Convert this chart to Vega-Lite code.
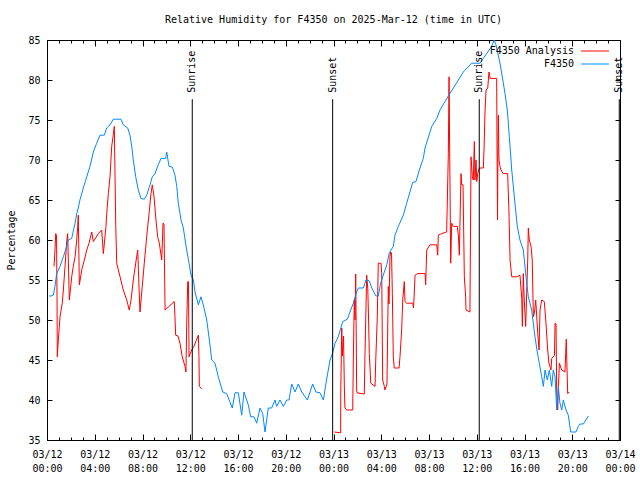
{
  "$schema": "https://vega.github.io/schema/vega-lite/v6.json",
  "width": 573,
  "height": 400,
  "autosize": "none",
  "padding": {"left": 47, "top": 40, "right": 20, "bottom": 40},
  "background": "white",
  "title": {"text": "Relative Humidity for F4350 on 2025-Mar-12 (time in UTC)", "font": "DejaVu Sans Mono", "fontSize": 10, "fontWeight": "normal", "color": "black", "anchor": "middle", "baseline": "alphabetic", "frame": "group", "offset": 2},
  "config": {
    "font": "DejaVu Sans Mono",
    "view": {"stroke": "black", "strokeWidth": 1},
    "axis": {"labelFont": "DejaVu Sans Mono", "labelFontSize": 10, "labelColor": "black", "titleFont": "DejaVu Sans Mono", "titleFontSize": 10, "titleFontWeight": "normal", "titleColor": "black", "grid": false, "domain": false, "tickColor": "black", "tickWidth": 1}
  },
  "datasets": {
    "blue": [
      {"s":"F4350","t":0.17,"rh":53.0},{"s":"F4350","t":0.34,"rh":53.0},{"s":"F4350","t":0.53,"rh":53.1},{"s":"F4350","t":0.67,"rh":54.2},{"s":"F4350","t":0.81,"rh":55.8},{"s":"F4350","t":1.09,"rh":56.7},{"s":"F4350","t":1.37,"rh":57.9},{"s":"F4350","t":1.65,"rh":59.2},{"s":"F4350","t":1.78,"rh":60.0},{"s":"F4350","t":2.07,"rh":60.2},{"s":"F4350","t":2.35,"rh":62.1},{"s":"F4350","t":2.49,"rh":63.3},{"s":"F4350","t":2.62,"rh":64.0},{"s":"F4350","t":2.76,"rh":65.0},{"s":"F4350","t":3.04,"rh":66.5},{"s":"F4350","t":3.33,"rh":67.9},{"s":"F4350","t":3.60,"rh":69.2},{"s":"F4350","t":3.88,"rh":71.0},{"s":"F4350","t":4.16,"rh":72.1},{"s":"F4350","t":4.44,"rh":73.1},{"s":"F4350","t":4.80,"rh":73.1},{"s":"F4350","t":5.00,"rh":74.0},{"s":"F4350","t":5.28,"rh":74.4},{"s":"F4350","t":5.55,"rh":75.1},{"s":"F4350","t":6.20,"rh":75.1},{"s":"F4350","t":6.39,"rh":74.4},{"s":"F4350","t":6.76,"rh":74.0},{"s":"F4350","t":6.95,"rh":73.1},{"s":"F4350","t":7.10,"rh":71.7},{"s":"F4350","t":7.23,"rh":70.0},{"s":"F4350","t":7.43,"rh":67.9},{"s":"F4350","t":7.65,"rh":66.25},{"s":"F4350","t":7.87,"rh":65.2},{"s":"F4350","t":8.15,"rh":65.1},{"s":"F4350","t":8.35,"rh":65.6},{"s":"F4350","t":8.63,"rh":66.9},{"s":"F4350","t":8.82,"rh":67.9},{"s":"F4350","t":9.05,"rh":68.3},{"s":"F4350","t":9.32,"rh":69.4},{"s":"F4350","t":9.55,"rh":70.2},{"s":"F4350","t":9.94,"rh":70.2},{"s":"F4350","t":10.03,"rh":71.0},{"s":"F4350","t":10.22,"rh":69.2},{"s":"F4350","t":10.50,"rh":69.1},{"s":"F4350","t":10.72,"rh":68.1},{"s":"F4350","t":10.87,"rh":66.7},{"s":"F4350","t":11.00,"rh":64.6},{"s":"F4350","t":11.23,"rh":62.5},{"s":"F4350","t":11.42,"rh":61.5},{"s":"F4350","t":11.70,"rh":58.75},{"s":"F4350","t":11.90,"rh":57.1},{"s":"F4350","t":12.06,"rh":55.6},{"s":"F4350","t":12.26,"rh":55.0},{"s":"F4350","t":12.40,"rh":53.5},{"s":"F4350","t":12.68,"rh":51.9},{"s":"F4350","t":12.90,"rh":52.9},{"s":"F4350","t":13.09,"rh":51.9},{"s":"F4350","t":13.38,"rh":50.0},{"s":"F4350","t":13.60,"rh":47.5},{"s":"F4350","t":13.80,"rh":45.0},{"s":"F4350","t":14.07,"rh":44.6},{"s":"F4350","t":14.35,"rh":42.9},{"s":"F4350","t":14.72,"rh":41.0},{"s":"F4350","t":15.05,"rh":40.8},{"s":"F4350","t":15.52,"rh":39.0},{"s":"F4350","t":15.75,"rh":40.9},{"s":"F4350","t":16.03,"rh":40.9},{"s":"F4350","t":16.31,"rh":38.1},{"s":"F4350","t":16.50,"rh":41.0},{"s":"F4350","t":16.86,"rh":39.4},{"s":"F4350","t":17.06,"rh":37.9},{"s":"F4350","t":17.34,"rh":37.9},{"s":"F4350","t":17.57,"rh":37.1},{"s":"F4350","t":17.84,"rh":39.0},{"s":"F4350","t":18.07,"rh":38.3},{"s":"F4350","t":18.26,"rh":36.0},{"s":"F4350","t":18.54,"rh":39.0},{"s":"F4350","t":18.82,"rh":39.0},{"s":"F4350","t":19.10,"rh":40.0},{"s":"F4350","t":19.24,"rh":39.2},{"s":"F4350","t":19.52,"rh":40.0},{"s":"F4350","t":19.80,"rh":39.2},{"s":"F4350","t":20.08,"rh":40.0},{"s":"F4350","t":20.27,"rh":40.0},{"s":"F4350","t":20.50,"rh":42.0},{"s":"F4350","t":20.78,"rh":41.0},{"s":"F4350","t":21.05,"rh":42.0},{"s":"F4350","t":21.34,"rh":41.0},{"s":"F4350","t":21.81,"rh":40.0},{"s":"F4350","t":22.26,"rh":42.0},{"s":"F4350","t":22.53,"rh":41.0},{"s":"F4350","t":22.87,"rh":40.9},{"s":"F4350","t":23.15,"rh":40.0},{"s":"F4350","t":23.37,"rh":42.1},{"s":"F4350","t":23.71,"rh":45.0},{"s":"F4350","t":23.93,"rh":45.9},{"s":"F4350","t":24.13,"rh":47.1},{"s":"F4350","t":24.40,"rh":47.9},{"s":"F4350","t":24.77,"rh":49.8},{"s":"F4350","t":25.16,"rh":50.1},{"s":"F4350","t":25.38,"rh":51.0},{"s":"F4350","t":25.66,"rh":52.1},{"s":"F4350","t":25.94,"rh":53.5},{"s":"F4350","t":26.08,"rh":54.0},{"s":"F4350","t":26.50,"rh":54.0},{"s":"F4350","t":26.72,"rh":55.0},{"s":"F4350","t":27.00,"rh":54.9},{"s":"F4350","t":27.20,"rh":54.0},{"s":"F4350","t":27.56,"rh":53.0},{"s":"F4350","t":27.75,"rh":53.0},{"s":"F4350","t":27.95,"rh":54.6},{"s":"F4350","t":28.17,"rh":55.6},{"s":"F4350","t":28.46,"rh":56.9},{"s":"F4350","t":28.68,"rh":58.4},{"s":"F4350","t":29.01,"rh":59.2},{"s":"F4350","t":29.15,"rh":60.6},{"s":"F4350","t":29.43,"rh":61.7},{"s":"F4350","t":29.85,"rh":63.1},{"s":"F4350","t":30.13,"rh":64.6},{"s":"F4350","t":30.64,"rh":67.2},{"s":"F4350","t":30.91,"rh":67.3},{"s":"F4350","t":31.19,"rh":68.75},{"s":"F4350","t":31.52,"rh":70.2},{"s":"F4350","t":31.67,"rh":71.5},{"s":"F4350","t":32.23,"rh":74.2},{"s":"F4350","t":32.65,"rh":75.2},{"s":"F4350","t":32.92,"rh":76.25},{"s":"F4350","t":33.34,"rh":77.3},{"s":"F4350","t":34.04,"rh":79.0},{"s":"F4350","t":34.46,"rh":80.0},{"s":"F4350","t":34.87,"rh":81.0},{"s":"F4350","t":35.58,"rh":82.1},{"s":"F4350","t":36.27,"rh":82.1},{"s":"F4350","t":36.83,"rh":83.3},{"s":"F4350","t":37.25,"rh":84.2},{"s":"F4350","t":37.45,"rh":85.0},{"s":"F4350","t":37.61,"rh":84.4},{"s":"F4350","t":37.95,"rh":82.1},{"s":"F4350","t":38.37,"rh":78.3},{"s":"F4350","t":38.56,"rh":76.25},{"s":"F4350","t":38.73,"rh":72.9},{"s":"F4350","t":38.93,"rh":68.75},{"s":"F4350","t":39.20,"rh":64.6},{"s":"F4350","t":39.40,"rh":61.7},{"s":"F4350","t":39.62,"rh":60.0},{"s":"F4350","t":39.90,"rh":58.75},{"s":"F4350","t":40.13,"rh":55.4},{"s":"F4350","t":40.32,"rh":52.9},{"s":"F4350","t":40.60,"rh":51.25},{"s":"F4350","t":40.88,"rh":47.9},{"s":"F4350","t":41.07,"rh":46.0},{"s":"F4350","t":41.24,"rh":44.6},{"s":"F4350","t":41.44,"rh":42.9},{"s":"F4350","t":41.58,"rh":41.7},{"s":"F4350","t":41.72,"rh":43.75},{"s":"F4350","t":41.91,"rh":42.5},{"s":"F4350","t":42.08,"rh":43.75},{"s":"F4350","t":42.28,"rh":41.7},{"s":"F4350","t":42.41,"rh":43.75},{"s":"F4350","t":42.56,"rh":42.9},{"s":"F4350","t":42.70,"rh":38.75},{"s":"F4350","t":42.83,"rh":41.7},{"s":"F4350","t":42.97,"rh":39.6},{"s":"F4350","t":43.12,"rh":38.75},{"s":"F4350","t":43.25,"rh":40.0},{"s":"F4350","t":43.48,"rh":38.75},{"s":"F4350","t":43.67,"rh":38.1},{"s":"F4350","t":43.87,"rh":36.0},{"s":"F4350","t":44.31,"rh":36.0},{"s":"F4350","t":44.51,"rh":36.7},{"s":"F4350","t":44.65,"rh":37.0},{"s":"F4350","t":44.93,"rh":37.0},{"s":"F4350","t":45.35,"rh":38.0}
    ],
    "red": [
      {"s":"F4350 Analysis","g":1,"t":0.59,"rh":56.7},{"s":"F4350 Analysis","g":1,"t":0.67,"rh":58.75},{"s":"F4350 Analysis","g":1,"t":0.73,"rh":60.8},{"s":"F4350 Analysis","g":1,"t":0.80,"rh":60.5},{"s":"F4350 Analysis","g":1,"t":0.84,"rh":52.9},{"s":"F4350 Analysis","g":1,"t":0.86,"rh":45.4},{"s":"F4350 Analysis","g":1,"t":0.95,"rh":47.5},{"s":"F4350 Analysis","g":1,"t":1.09,"rh":50.4},{"s":"F4350 Analysis","g":1,"t":1.28,"rh":52.1},{"s":"F4350 Analysis","g":1,"t":1.37,"rh":53.75},{"s":"F4350 Analysis","g":1,"t":1.51,"rh":56.7},{"s":"F4350 Analysis","g":1,"t":1.65,"rh":59.8},{"s":"F4350 Analysis","g":1,"t":1.73,"rh":60.8},{"s":"F4350 Analysis","g":1,"t":1.87,"rh":52.5},{"s":"F4350 Analysis","g":1,"t":2.07,"rh":55.4},{"s":"F4350 Analysis","g":1,"t":2.20,"rh":56.7},{"s":"F4350 Analysis","g":1,"t":2.35,"rh":57.9},{"s":"F4350 Analysis","g":1,"t":2.49,"rh":60.0},{"s":"F4350 Analysis","g":1,"t":2.57,"rh":61.7},{"s":"F4350 Analysis","g":1,"t":2.62,"rh":63.1},{"s":"F4350 Analysis","g":1,"t":2.71,"rh":54.4},{"s":"F4350 Analysis","g":1,"t":2.91,"rh":56.25},{"s":"F4350 Analysis","g":1,"t":3.13,"rh":57.5},{"s":"F4350 Analysis","g":1,"t":3.33,"rh":58.75},{"s":"F4350 Analysis","g":1,"t":3.52,"rh":59.6},{"s":"F4350 Analysis","g":1,"t":3.75,"rh":61.0},{"s":"F4350 Analysis","g":1,"t":3.88,"rh":59.8},{"s":"F4350 Analysis","g":1,"t":4.30,"rh":60.8},{"s":"F4350 Analysis","g":1,"t":4.58,"rh":61.25},{"s":"F4350 Analysis","g":1,"t":4.72,"rh":58.3},{"s":"F4350 Analysis","g":1,"t":4.94,"rh":61.7},{"s":"F4350 Analysis","g":1,"t":5.00,"rh":63.3},{"s":"F4350 Analysis","g":1,"t":5.14,"rh":65.8},{"s":"F4350 Analysis","g":1,"t":5.28,"rh":67.9},{"s":"F4350 Analysis","g":1,"t":5.42,"rh":71.7},{"s":"F4350 Analysis","g":1,"t":5.55,"rh":73.1},{"s":"F4350 Analysis","g":1,"t":5.64,"rh":74.2},{"s":"F4350 Analysis","g":1,"t":5.70,"rh":67.9},{"s":"F4350 Analysis","g":1,"t":5.76,"rh":61.7},{"s":"F4350 Analysis","g":1,"t":5.84,"rh":57.1},{"s":"F4350 Analysis","g":1,"t":6.12,"rh":55.4},{"s":"F4350 Analysis","g":1,"t":6.39,"rh":53.75},{"s":"F4350 Analysis","g":1,"t":6.68,"rh":52.5},{"s":"F4350 Analysis","g":1,"t":6.89,"rh":51.25},{"s":"F4350 Analysis","g":1,"t":7.04,"rh":52.5},{"s":"F4350 Analysis","g":1,"t":7.23,"rh":55.0},{"s":"F4350 Analysis","g":1,"t":7.43,"rh":57.1},{"s":"F4350 Analysis","g":1,"t":7.60,"rh":58.75},{"s":"F4350 Analysis","g":1,"t":7.71,"rh":54.0},{"s":"F4350 Analysis","g":1,"t":7.79,"rh":51.0},{"s":"F4350 Analysis","g":1,"t":7.98,"rh":54.2},{"s":"F4350 Analysis","g":1,"t":8.15,"rh":57.1},{"s":"F4350 Analysis","g":1,"t":8.35,"rh":60.4},{"s":"F4350 Analysis","g":1,"t":8.55,"rh":63.3},{"s":"F4350 Analysis","g":1,"t":8.71,"rh":65.8},{"s":"F4350 Analysis","g":1,"t":8.82,"rh":66.9},{"s":"F4350 Analysis","g":1,"t":8.96,"rh":65.5},{"s":"F4350 Analysis","g":1,"t":9.13,"rh":62.5},{"s":"F4350 Analysis","g":1,"t":9.27,"rh":60.4},{"s":"F4350 Analysis","g":1,"t":9.41,"rh":59.6},{"s":"F4350 Analysis","g":1,"t":9.61,"rh":57.5},{"s":"F4350 Analysis","g":1,"t":9.72,"rh":62.1},{"s":"F4350 Analysis","g":1,"t":9.80,"rh":62.0},{"s":"F4350 Analysis","g":1,"t":9.89,"rh":51.25},{"s":"F4350 Analysis","g":1,"t":10.66,"rh":52.3},{"s":"F4350 Analysis","g":1,"t":10.72,"rh":50.4},{"s":"F4350 Analysis","g":1,"t":10.78,"rh":48.1},{"s":"F4350 Analysis","g":1,"t":10.97,"rh":48.0},{"s":"F4350 Analysis","g":1,"t":11.14,"rh":47.1},{"s":"F4350 Analysis","g":1,"t":11.33,"rh":45.4},{"s":"F4350 Analysis","g":1,"t":11.56,"rh":44.2},{"s":"F4350 Analysis","g":1,"t":11.64,"rh":43.5},{"s":"F4350 Analysis","g":1,"t":11.70,"rh":49.2},{"s":"F4350 Analysis","g":1,"t":11.79,"rh":54.8},{"s":"F4350 Analysis","g":1,"t":11.85,"rh":54.8},{"s":"F4350 Analysis","g":1,"t":11.90,"rh":45.4},{"s":"F4350 Analysis","g":1,"t":12.12,"rh":46.25},{"s":"F4350 Analysis","g":1,"t":12.31,"rh":46.7},{"s":"F4350 Analysis","g":1,"t":12.68,"rh":48.1},{"s":"F4350 Analysis","g":1,"t":12.73,"rh":45.4},{"s":"F4350 Analysis","g":1,"t":12.76,"rh":41.7},{"s":"F4350 Analysis","g":1,"t":12.96,"rh":41.4},
      {"s":"F4350 Analysis","g":2,"t":24.07,"rh":36.0},{"s":"F4350 Analysis","g":2,"t":24.60,"rh":35.9},{"s":"F4350 Analysis","g":2,"t":24.61,"rh":41.25},{"s":"F4350 Analysis","g":2,"t":24.69,"rh":49.0},{"s":"F4350 Analysis","g":2,"t":24.75,"rh":45.5},{"s":"F4350 Analysis","g":2,"t":24.84,"rh":48.0},{"s":"F4350 Analysis","g":2,"t":24.91,"rh":41.5},{"s":"F4350 Analysis","g":2,"t":24.96,"rh":39.0},{"s":"F4350 Analysis","g":2,"t":25.11,"rh":38.75},{"s":"F4350 Analysis","g":2,"t":25.61,"rh":38.75},{"s":"F4350 Analysis","g":2,"t":25.66,"rh":45.0},{"s":"F4350 Analysis","g":2,"t":25.74,"rh":52.5},{"s":"F4350 Analysis","g":2,"t":25.80,"rh":50.0},{"s":"F4350 Analysis","g":2,"t":25.86,"rh":55.75},{"s":"F4350 Analysis","g":2,"t":25.94,"rh":41.25},{"s":"F4350 Analysis","g":2,"t":25.97,"rh":40.9},{"s":"F4350 Analysis","g":2,"t":26.58,"rh":40.75},{"s":"F4350 Analysis","g":2,"t":26.64,"rh":45.8},{"s":"F4350 Analysis","g":2,"t":26.78,"rh":55.6},{"s":"F4350 Analysis","g":2,"t":26.87,"rh":54.0},{"s":"F4350 Analysis","g":2,"t":26.92,"rh":51.25},{"s":"F4350 Analysis","g":2,"t":27.00,"rh":45.8},{"s":"F4350 Analysis","g":2,"t":27.12,"rh":42.1},{"s":"F4350 Analysis","g":2,"t":27.48,"rh":41.7},{"s":"F4350 Analysis","g":2,"t":27.54,"rh":45.0},{"s":"F4350 Analysis","g":2,"t":27.67,"rh":50.4},{"s":"F4350 Analysis","g":2,"t":27.75,"rh":57.1},{"s":"F4350 Analysis","g":2,"t":27.98,"rh":57.1},{"s":"F4350 Analysis","g":2,"t":28.04,"rh":55.8},{"s":"F4350 Analysis","g":2,"t":28.12,"rh":42.5},{"s":"F4350 Analysis","g":2,"t":28.26,"rh":41.7},{"s":"F4350 Analysis","g":2,"t":28.31,"rh":41.25},{"s":"F4350 Analysis","g":2,"t":28.48,"rh":42.0},{"s":"F4350 Analysis","g":2,"t":28.59,"rh":54.2},{"s":"F4350 Analysis","g":2,"t":28.65,"rh":52.0},{"s":"F4350 Analysis","g":2,"t":28.73,"rh":57.9},{"s":"F4350 Analysis","g":2,"t":28.79,"rh":58.5},{"s":"F4350 Analysis","g":2,"t":28.86,"rh":58.4},{"s":"F4350 Analysis","g":2,"t":28.93,"rh":53.3},{"s":"F4350 Analysis","g":2,"t":29.01,"rh":45.4},{"s":"F4350 Analysis","g":2,"t":29.09,"rh":44.0},{"s":"F4350 Analysis","g":2,"t":29.49,"rh":44.0},{"s":"F4350 Analysis","g":2,"t":29.57,"rh":45.4},{"s":"F4350 Analysis","g":2,"t":29.71,"rh":48.75},{"s":"F4350 Analysis","g":2,"t":29.80,"rh":52.5},{"s":"F4350 Analysis","g":2,"t":29.93,"rh":54.8},{"s":"F4350 Analysis","g":2,"t":29.99,"rh":52.3},{"s":"F4350 Analysis","g":2,"t":30.13,"rh":52.1},{"s":"F4350 Analysis","g":2,"t":30.64,"rh":52.1},{"s":"F4350 Analysis","g":2,"t":30.70,"rh":51.5},{"s":"F4350 Analysis","g":2,"t":30.77,"rh":53.5},{"s":"F4350 Analysis","g":2,"t":30.83,"rh":55.6},{"s":"F4350 Analysis","g":2,"t":31.05,"rh":55.8},{"s":"F4350 Analysis","g":2,"t":31.67,"rh":55.8},{"s":"F4350 Analysis","g":2,"t":31.72,"rh":54.4},{"s":"F4350 Analysis","g":2,"t":31.81,"rh":58.75},{"s":"F4350 Analysis","g":2,"t":32.08,"rh":59.4},{"s":"F4350 Analysis","g":2,"t":32.65,"rh":59.4},{"s":"F4350 Analysis","g":2,"t":32.73,"rh":58.1},{"s":"F4350 Analysis","g":2,"t":32.78,"rh":60.6},{"s":"F4350 Analysis","g":2,"t":33.06,"rh":60.8},{"s":"F4350 Analysis","g":2,"t":33.48,"rh":61.0},{"s":"F4350 Analysis","g":2,"t":33.62,"rh":70.8},{"s":"F4350 Analysis","g":2,"t":33.68,"rh":80.4},{"s":"F4350 Analysis","g":2,"t":33.73,"rh":71.5},{"s":"F4350 Analysis","g":2,"t":33.82,"rh":57.1},{"s":"F4350 Analysis","g":2,"t":33.90,"rh":62.1},{"s":"F4350 Analysis","g":2,"t":34.04,"rh":61.7},{"s":"F4350 Analysis","g":2,"t":34.37,"rh":61.7},{"s":"F4350 Analysis","g":2,"t":34.46,"rh":60.6},{"s":"F4350 Analysis","g":2,"t":34.54,"rh":58.1},{"s":"F4350 Analysis","g":2,"t":34.68,"rh":68.3},{"s":"F4350 Analysis","g":2,"t":34.74,"rh":66.9},{"s":"F4350 Analysis","g":2,"t":34.85,"rh":66.9},{"s":"F4350 Analysis","g":2,"t":34.96,"rh":55.4},{"s":"F4350 Analysis","g":2,"t":35.07,"rh":52.9},{"s":"F4350 Analysis","g":2,"t":35.10,"rh":51.25},{"s":"F4350 Analysis","g":2,"t":35.43,"rh":51.0},{"s":"F4350 Analysis","g":2,"t":35.52,"rh":70.4},{"s":"F4350 Analysis","g":2,"t":35.63,"rh":67.9},{"s":"F4350 Analysis","g":2,"t":35.71,"rh":67.5},{"s":"F4350 Analysis","g":2,"t":35.80,"rh":72.3},{"s":"F4350 Analysis","g":2,"t":35.85,"rh":67.5},{"s":"F4350 Analysis","g":2,"t":35.94,"rh":70.0},{"s":"F4350 Analysis","g":2,"t":36.00,"rh":67.3},{"s":"F4350 Analysis","g":2,"t":36.08,"rh":68.3},{"s":"F4350 Analysis","g":2,"t":36.21,"rh":69.0},{"s":"F4350 Analysis","g":2,"t":36.55,"rh":69.0},{"s":"F4350 Analysis","g":2,"t":36.61,"rh":71.25},{"s":"F4350 Analysis","g":2,"t":36.69,"rh":76.0},{"s":"F4350 Analysis","g":2,"t":36.78,"rh":78.75},{"s":"F4350 Analysis","g":2,"t":36.92,"rh":79.0},{"s":"F4350 Analysis","g":2,"t":37.03,"rh":81.0},{"s":"F4350 Analysis","g":2,"t":37.11,"rh":80.2},{"s":"F4350 Analysis","g":2,"t":37.67,"rh":80.2},{"s":"F4350 Analysis","g":2,"t":37.70,"rh":71.5},{"s":"F4350 Analysis","g":2,"t":37.74,"rh":62.5},{"s":"F4350 Analysis","g":2,"t":37.78,"rh":72.0},{"s":"F4350 Analysis","g":2,"t":37.81,"rh":75.6},{"s":"F4350 Analysis","g":2,"t":37.86,"rh":70.0},{"s":"F4350 Analysis","g":2,"t":37.95,"rh":69.2},{"s":"F4350 Analysis","g":2,"t":38.03,"rh":68.75},{"s":"F4350 Analysis","g":2,"t":38.22,"rh":68.3},{"s":"F4350 Analysis","g":2,"t":38.59,"rh":68.3},{"s":"F4350 Analysis","g":2,"t":38.70,"rh":63.5},{"s":"F4350 Analysis","g":2,"t":38.79,"rh":57.5},{"s":"F4350 Analysis","g":2,"t":38.93,"rh":55.4},{"s":"F4350 Analysis","g":2,"t":39.35,"rh":55.4},{"s":"F4350 Analysis","g":2,"t":39.62,"rh":55.6},{"s":"F4350 Analysis","g":2,"t":39.77,"rh":52.7},{"s":"F4350 Analysis","g":2,"t":39.82,"rh":49.2},{"s":"F4350 Analysis","g":2,"t":39.90,"rh":55.8},{"s":"F4350 Analysis","g":2,"t":39.98,"rh":52.5},{"s":"F4350 Analysis","g":2,"t":40.10,"rh":49.2},{"s":"F4350 Analysis","g":2,"t":40.18,"rh":53.3},{"s":"F4350 Analysis","g":2,"t":40.27,"rh":57.5},{"s":"F4350 Analysis","g":2,"t":40.32,"rh":61.5},{"s":"F4350 Analysis","g":2,"t":40.40,"rh":60.0},{"s":"F4350 Analysis","g":2,"t":40.55,"rh":59.2},{"s":"F4350 Analysis","g":2,"t":40.65,"rh":57.5},{"s":"F4350 Analysis","g":2,"t":40.74,"rh":50.4},{"s":"F4350 Analysis","g":2,"t":40.82,"rh":50.8},{"s":"F4350 Analysis","g":2,"t":40.94,"rh":52.5},{"s":"F4350 Analysis","g":2,"t":41.11,"rh":48.3},{"s":"F4350 Analysis","g":2,"t":41.22,"rh":46.25},{"s":"F4350 Analysis","g":2,"t":41.30,"rh":51.25},{"s":"F4350 Analysis","g":2,"t":41.44,"rh":52.5},{"s":"F4350 Analysis","g":2,"t":41.66,"rh":52.3},{"s":"F4350 Analysis","g":2,"t":41.80,"rh":49.6},{"s":"F4350 Analysis","g":2,"t":41.94,"rh":46.25},{"s":"F4350 Analysis","g":2,"t":42.05,"rh":44.6},{"s":"F4350 Analysis","g":2,"t":42.22,"rh":43.75},{"s":"F4350 Analysis","g":2,"t":42.28,"rh":45.2},{"s":"F4350 Analysis","g":2,"t":42.51,"rh":45.6},{"s":"F4350 Analysis","g":2,"t":42.56,"rh":49.6},{"s":"F4350 Analysis","g":2,"t":42.64,"rh":49.5},{"s":"F4350 Analysis","g":2,"t":42.70,"rh":40.8},{"s":"F4350 Analysis","g":2,"t":42.78,"rh":38.75},{"s":"F4350 Analysis","g":2,"t":42.92,"rh":44.6},{"s":"F4350 Analysis","g":2,"t":43.12,"rh":43.75},{"s":"F4350 Analysis","g":2,"t":43.39,"rh":43.5},{"s":"F4350 Analysis","g":2,"t":43.45,"rh":45.8},{"s":"F4350 Analysis","g":2,"t":43.50,"rh":47.6},{"s":"F4350 Analysis","g":2,"t":43.56,"rh":44.0},{"s":"F4350 Analysis","g":2,"t":43.62,"rh":40.8},{"s":"F4350 Analysis","g":2,"t":43.73,"rh":41.0}
    ],
    "sun": [
      {"t": 12.17, "label": "Sunrise"},
      {"t": 23.93, "label": "Sunset"},
      {"t": 36.21, "label": "Sunrise"},
      {"t": 47.94, "label": "Sunset"}
    ]
  },
  "layer": [
    {
      "data": {"name": "red"},
      "mark": {"type": "line", "strokeWidth": 1, "clip": true},
      "encoding": {
        "x": {"field": "t", "type": "quantitative", "scale": {"domain": [0, 48], "nice": false, "zero": false},
          "axis": {"orient": "bottom", "title": null, "values": [0,4,8,12,16,20,24,28,32,36,40,44,48], "tickSize": -6, "labelPadding": 15, "labelBaseline": "top", "labelLineHeight": 14, "labelFlush": false, "labelOverlap": false,
            "labelExpr": "[datum.value < 24 ? '03/12' : (datum.value < 48 ? '03/13' : '03/14'), (datum.value % 24 < 10 ? '0' : '') + (datum.value % 24) + ':00']"}},
        "y": {"field": "rh", "type": "quantitative", "scale": {"domain": [35, 85], "nice": false, "zero": false},
          "axis": {"orient": "left", "title": "Percentage", "values": [35,40,45,50,55,60,65,70,75,80,85], "tickSize": -5, "labelPadding": 12, "titlePadding": 11, "labelFlush": false}},
        "color": {"field": "s", "type": "nominal",
          "scale": {"domain": ["F4350 Analysis", "F4350"], "range": ["#ff0000", "#0088ff"]},
          "legend": {"title": null, "orient": "none", "legendX": 543, "legendY": 6, "symbolType": "M-4,0H4", "symbolSize": 49, "symbolStrokeWidth": 1, "labelAlign": "right", "labelOffset": -26, "rowPadding": 3, "labelFont": "DejaVu Sans Mono", "labelFontSize": 10, "labelColor": "black", "padding": 0}},
        "detail": {"field": "g", "type": "nominal"}
      }
    },
    {
      "data": {"name": "blue"},
      "mark": {"type": "line", "strokeWidth": 1, "clip": true},
      "encoding": {
        "x": {"field": "t", "type": "quantitative", "scale": {"domain": [0, 48], "nice": false, "zero": false},
          "axis": {"orient": "top", "title": null, "values": [0,4,8,12,16,20,24,28,32,36,40,44,48], "tickSize": -6, "labels": false}},
        "y": {"field": "rh", "type": "quantitative", "scale": {"domain": [35, 85], "nice": false, "zero": false},
          "axis": {"orient": "right", "title": null, "values": [35,40,45,50,55,60,65,70,75,80,85], "tickSize": -5, "labels": false}},
        "color": {"field": "s", "type": "nominal"}
      }
    },
    {
      "data": {"name": "sun"},
      "mark": {"type": "rule", "color": "black", "strokeWidth": 1},
      "encoding": {
        "x": {"field": "t", "type": "quantitative", "scale": {"domain": [0, 48], "nice": false, "zero": false},
          "axis": {"orient": "bottom", "title": null, "values": [0,1,2,3,4,5,6,7,8,9,10,11,12,13,14,15,16,17,18,19,20,21,22,23,24,25,26,27,28,29,30,31,32,33,34,35,36,37,38,39,40,41,42,43,44,45,46,47,48], "tickSize": -3, "labels": false}},
        "y": {"datum": 77.6, "type": "quantitative", "axis": null},
        "y2": {"datum": 35}
      }
    },
    {
      "data": {"name": "sun"},
      "mark": {"type": "text", "angle": 270, "align": "left", "baseline": "middle", "font": "DejaVu Sans Mono", "fontSize": 10, "color": "black"},
      "encoding": {
        "x": {"field": "t", "type": "quantitative", "scale": {"domain": [0, 48], "nice": false, "zero": false},
          "axis": {"orient": "top", "title": null, "values": [0,1,2,3,4,5,6,7,8,9,10,11,12,13,14,15,16,17,18,19,20,21,22,23,24,25,26,27,28,29,30,31,32,33,34,35,36,37,38,39,40,41,42,43,44,45,46,47,48], "tickSize": -3, "labels": false}},
        "y": {"datum": 78.4, "type": "quantitative", "axis": null},
        "text": {"field": "label"}
      }
    }
  ],
  "resolve": {"axis": {"x": "independent", "y": "independent"}}
}
